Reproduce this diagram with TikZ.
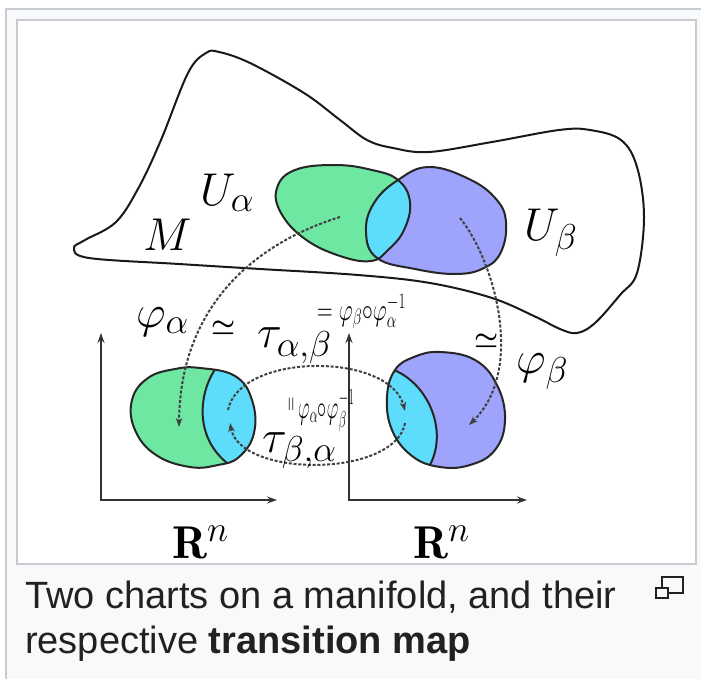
\RequirePackage{fix-cm}
\documentclass[tikz,border=0pt]{standalone}
\usepackage{amsmath}
\usepackage{fontspec}
\newfontfamily\capfont{Liberation Sans}
\usetikzlibrary{arrows.meta}
\DeclareMathSizes{46}{46}{36}{28}

\definecolor{pagegray}{HTML}{F8F9FA}
\definecolor{framegray}{HTML}{C8CCD1}
\definecolor{captext}{HTML}{202122}
\definecolor{chartgreen}{RGB}{110,231,163}
\definecolor{chartblue}{RGB}{158,163,251}
\definecolor{overlap}{RGB}{94,220,251}

% chart domains on M and their images
\def\ualpha{plot[smooth cycle, tension=0.7] coordinates {(398,180) (410,202) (404,230) (388,250) (371,261) (340,256) (305,239) (281,213) (277,188) (295,170) (335,165) (372,170)}}
\def\ubeta{plot[smooth cycle, tension=0.7] coordinates {(398,180) (429,167) (469,179) (496,199) (506,222) (501,252) (484,268) (456,274) (415,269) (377,258) (366,232) (374,203)}}
\def\diskleft{plot[smooth cycle, tension=0.7] coordinates {(200,368) (235,376) (252,400) (254,433) (239,457) (218,465) (190,467) (156,455) (135,430) (132,400) (148,378) (175,369)}}
\def\diskright{plot[smooth cycle, tension=0.7] coordinates {(440,352) (475,360) (497,385) (505,420) (495,450) (470,465) (440,467) (412,456) (392,430) (387,397) (395,370) (414,357)}}

\begin{document}
\begin{tikzpicture}[
  x=1pt, y=-1pt,
  font=\fontsize{46}{50}\selectfont,
  lbl/.style={inner sep=0pt, anchor=base west},
  rim/.style={line width=2pt, draw=black!85},
  mapto/.style={dash pattern=on 3pt off 1.8pt, line width=2pt, draw=black!75, -{Stealth[length=9pt, width=6.5pt]}},
  axis/.style={line width=1.9pt, draw=black!80, {Stealth[length=10pt, width=7pt]}-{Stealth[length=10pt, width=7pt]}},
  note/.style={inner sep=0pt, anchor=base west, font=\fontsize{30}{32}\selectfont},
  capline/.style={inner sep=0pt, anchor=base west, text=captext, font=\capfont\fontsize{38}{44}\selectfont},
]

% --- page frame ---
\useasboundingbox (0,0) rectangle (701,679);
\fill[white] (0,0) rectangle (701,679);
\filldraw[fill=pagegray, draw=framegray, line width=2pt] (6,9) rectangle (712,690);
\filldraw[fill=white, draw=framegray, line width=2pt] (17,20) rectangle (696,564);

% --- manifold M ---
\draw[line width=2pt, black!90] plot[smooth cycle, tension=0.6] coordinates {
  (219,52) (250,63) (304,93) (340,120) (367,140) (393,148) (429,152) (492,142)
  (559,130) (590,130) (621,140) (637,167) (644,217) (637,273) (620,295) (595,323)
  (577,333) (560,329) (536,317) (492,298) (430,283) (358,275) (260,269) (179,264)
  (89,258) (74,248) (85,240) (116,222) (139,187) (161,140) (188,73) (206,53)};

% --- overlapping domains ---
\fill[chartgreen] \ualpha;
\fill[chartblue] \ubeta;
\begin{scope}
  \clip \ualpha;
  \fill[overlap] \ubeta;
\end{scope}
\draw[rim] \ualpha;
\draw[rim] \ubeta;

% --- two copies of R^n ---
\coordinate (ya) at (101,333);
\coordinate (xa) at (277,500);
\coordinate (yb) at (349,333);
\coordinate (xb) at (527,500);
\draw[axis] (ya) |- (xa);
\draw[axis] (yb) |- (xb);

% image of U_alpha
\fill[chartgreen] \diskleft;
\begin{scope}
  \clip \diskleft;
  \fill[overlap] (220,363) .. controls (200,385) and (190,437) .. (231,466) -- (270,475) -- (270,350) -- cycle;
  \draw[rim] (220,363) .. controls (200,385) and (190,437) .. (231,466);
\end{scope}
\draw[rim] \diskleft;

% image of U_beta
\fill[chartblue] \diskright;
\begin{scope}
  \clip \diskright;
  \fill[overlap] (394,370) .. controls (430,385) and (450,435) .. (427,470) -- (375,475) -- (375,345) -- cycle;
  \draw[rim] (394,370) .. controls (430,385) and (450,435) .. (427,470);
\end{scope}
\draw[rim] \diskright;

% --- chart maps and transition maps ---
\coordinate (pa) at (340,217);
\coordinate (qa) at (179,427);
\coordinate (pb) at (460,218);
\coordinate (qb) at (469,425);
\coordinate (ta) at (228,410);
\coordinate (tb) at (405,411);
\coordinate (sb) at (405,423);
\coordinate (sa) at (230,423);
\draw[mapto] (pa) .. controls (250,245) and (180,310) .. (qa);
\draw[mapto] (pb) .. controls (494,260) and (526,370) .. (qb);
\draw[mapto] (ta) .. controls (240,352) and (390,352) .. (tb);
\draw[mapto] (sb) .. controls (395,478) and (240,478) .. (sa);

% --- labels ---
\node[lbl] (lm) at (143,250) {$M$};
\node[lbl] (lua) at (200,205) {$U_\alpha$};
\node[lbl] (lub) at (524,240) {$U_\beta$};
\node[lbl] (lpa) at (136,327) {$\varphi_\alpha$};
\node[lbl] (lpb) at (516,373) {$\varphi_\beta$};
\node[lbl] (ltab) at (257,347) {$\tau_{\alpha,\beta}$};
\node[lbl] (ltba) at (262,452) {$\tau_{\beta,\alpha}$};
\node[lbl] (lra) at (172,558) {$\mathbf{R}^n$};
\node[lbl] (lrb) at (413,558) {$\mathbf{R}^n$};
\node[note, font=\fontsize{27}{30}\selectfont] (sima) at (211,334) {$\boldsymbol{\simeq}$};
\node[note, font=\fontsize{27}{30}\selectfont] (simb) at (474,347) {$\boldsymbol{\simeq}$};
\node[note] (eqab) at (317,320) {\scalebox{0.72}[1.05]{$=\varphi_\beta{\circ}\varphi_\alpha^{-1}$}};
\node[note, rotate=90, font=\fontsize{20}{22}\selectfont] (eqba) at (296,412) {$=$};
\node[note] (eqbat) at (298,418) {\scalebox{0.6}[1.1]{$\varphi_\alpha{\circ}\varphi_\beta^{-1}$}};

% --- caption ---
\node[capline] (cap1) at (25,608) {Two charts on a manifold, and their};
\node[capline] (cap2) at (25,653) {respective \textbf{transition map}};
\draw[line width=1.8pt, draw=captext] (662,577) rectangle (683,593);
\filldraw[line width=1.8pt, draw=captext, fill=pagegray] (656,588) rectangle (668,598);

\end{tikzpicture}
\end{document}
